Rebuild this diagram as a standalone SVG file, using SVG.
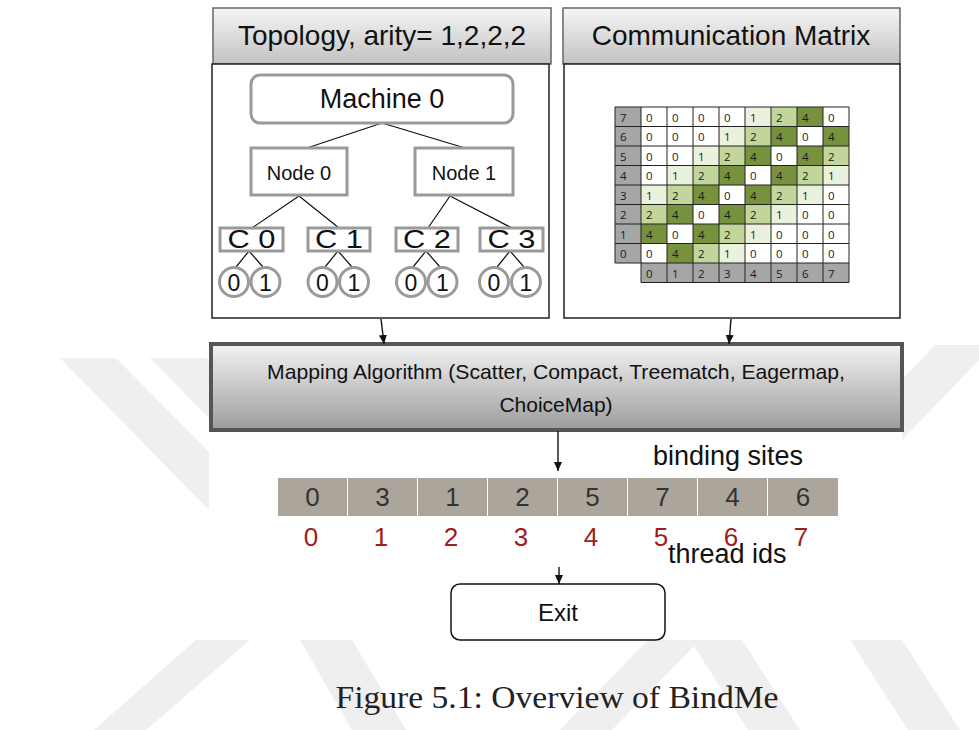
<svg xmlns="http://www.w3.org/2000/svg" width="979" height="730" viewBox="0 0 979 730">
<style>
.wm{fill:#efefef}
.hdr{fill:url(#gH);stroke:#666;stroke-width:1.5}
.panel{fill:#fff;stroke:#222;stroke-width:1.5}
.gbox{fill:#fff;stroke:#9a9a9a;stroke-width:3}
.t{font-family:"Liberation Sans",Arial,sans-serif;fill:#111;text-anchor:middle}
.ln{stroke:#111;stroke-width:1.2;fill:none}
.arr{stroke:#111;stroke-width:1.4;fill:none;marker-end:url(#ah)}
.m{font-family:"Open Sans","Liberation Sans",sans-serif;font-size:11.5px;fill:#1a1a1a}
.g4{fill:#76923c}.g2{fill:#c2d69b}.g1{fill:#eaf1dd}.gl{fill:#a6a6a6}
.ac{fill:#aba59c}
.an{font-family:"Liberation Sans",Arial,sans-serif;font-size:26px;fill:#333;text-anchor:middle}
.rn{font-family:"Liberation Sans",Arial,sans-serif;font-size:26px;fill:#a01c1c;text-anchor:middle}
</style>
<defs>
<linearGradient id="gH" x1="0" y1="0" x2="0" y2="1"><stop offset="0" stop-color="#f6f6f6"/><stop offset="1" stop-color="#c2c2c2"/></linearGradient>
<linearGradient id="gM" x1="0" y1="0" x2="0" y2="1"><stop offset="0" stop-color="#f3f3f3"/><stop offset="1" stop-color="#9c9c9c"/></linearGradient>
<marker id="ah" markerWidth="10" markerHeight="10" refX="9" refY="5" orient="auto" markerUnits="userSpaceOnUse"><path d="M0,1 L9,5 L0,9 z" fill="#111"/></marker>
</defs>
<rect width="979" height="730" fill="#fff"/>
<g id="watermark">
<polygon class="wm" points="60,358 116,358 209,452 209,510"/>
<polygon class="wm" points="150,358 206,358 209,361 209,418"/>
<polygon class="wm" points="94,730 146,730 250,640 196,640"/>
<polygon class="wm" points="300,640 352,640 406,730 352,730"/>
<polygon class="wm" points="560,730 612,730 700,640 648,640"/>
<polygon class="wm" points="690,640 742,640 800,730 748,730"/>
<polygon class="wm" points="850,640 902,640 960,730 908,730"/>
<polygon class="wm" points="902,380 935,345 979,345 979,360 902,440"/>
</g>
<rect x="209" y="0" width="693" height="640" fill="#fff"/>

<g id="topology-header"><rect class="hdr" x="213" y="8" width="338" height="56"/><text class="t" x="382" y="45" font-size="28">Topology, arity= 1,2,2,2</text></g>
<g id="matrix-header"><rect class="hdr" x="563" y="8" width="337" height="56"/><text class="t" x="731" y="45" font-size="28">Communication Matrix</text></g>
<g id="topology-panel"><rect class="panel" x="212" y="64" width="337" height="254"/></g>
<g id="matrix-panel"><rect class="panel" x="564" y="64" width="336" height="254"/></g>

<g id="tree-lines">
<path class="ln" d="M382,123 L307,148 M382,123 L465,148 M299,196 L252,228 M299,196 L339,228 M450,196 L428,228 M450,196 L512,228 M249,251 L236,267 M249,251 L263,267 M338,251 L325,267 M338,251 L352,267 M426,251 L413,267 M426,251 L440,267 M510,251 L497,267 M510,251 L524,267"/>
</g>
<g id="machine0"><rect class="gbox" x="251" y="75" width="262" height="48" rx="9"/><text class="t" x="382" y="108" font-size="27">Machine 0</text></g>
<g id="node0"><rect class="gbox" x="251" y="148" width="96" height="47"/><text class="t" x="299" y="180" font-size="20">Node 0</text></g>
<g id="node1"><rect class="gbox" x="415" y="148" width="98" height="47"/><text class="t" x="464" y="180" font-size="20">Node 1</text></g>
<g id="c0"><rect class="gbox" x="220" y="228" width="63" height="23"/><text class="t" x="251.5" y="247.5" font-size="25" textLength="48" lengthAdjust="spacingAndGlyphs">C 0</text></g>
<g id="c1"><rect class="gbox" x="308" y="228" width="62" height="23"/><text class="t" x="339" y="247.5" font-size="25" textLength="48" lengthAdjust="spacingAndGlyphs">C 1</text></g>
<g id="c2"><rect class="gbox" x="396" y="228" width="62" height="23"/><text class="t" x="427" y="247.5" font-size="25" textLength="48" lengthAdjust="spacingAndGlyphs">C 2</text></g>
<g id="c3"><rect class="gbox" x="480" y="228" width="63" height="23"/><text class="t" x="511.5" y="247.5" font-size="25" textLength="48" lengthAdjust="spacingAndGlyphs">C 3</text></g>
<g id="c0-t0"><circle class="gbox" cx="234" cy="282" r="14.5"/><text class="t" x="234" y="290.5" font-size="23">0</text></g>
<g id="c0-t1"><circle class="gbox" cx="265.5" cy="282" r="14.5"/><text class="t" x="265.5" y="290.5" font-size="23">1</text></g>
<g id="c1-t0"><circle class="gbox" cx="322.5" cy="282" r="14.5"/><text class="t" x="322.5" y="290.5" font-size="23">0</text></g>
<g id="c1-t1"><circle class="gbox" cx="354" cy="282" r="14.5"/><text class="t" x="354" y="290.5" font-size="23">1</text></g>
<g id="c2-t0"><circle class="gbox" cx="411" cy="282" r="14.5"/><text class="t" x="411" y="290.5" font-size="23">0</text></g>
<g id="c2-t1"><circle class="gbox" cx="442.5" cy="282" r="14.5"/><text class="t" x="442.5" y="290.5" font-size="23">1</text></g>
<g id="c3-t0"><circle class="gbox" cx="494" cy="282" r="14.5"/><text class="t" x="494" y="290.5" font-size="23">0</text></g>
<g id="c3-t1"><circle class="gbox" cx="526" cy="282" r="14.5"/><text class="t" x="526" y="290.5" font-size="23">1</text></g>

<g id="matrix">
<rect class="gl" x="615" y="107" width="26" height="156"/>
<rect class="gl" x="641" y="263" width="208" height="19.5"/>
<rect class="g1" x="745" y="107" width="26" height="19.5"/><rect class="g2" x="771" y="107" width="26" height="19.5"/><rect class="g4" x="797" y="107" width="26" height="19.5"/>
<rect class="g1" x="719" y="126.5" width="26" height="19.5"/><rect class="g2" x="745" y="126.5" width="26" height="19.5"/><rect class="g4" x="771" y="126.5" width="26" height="19.5"/><rect class="g4" x="823" y="126.5" width="26" height="19.5"/>
<rect class="g1" x="693" y="146" width="26" height="19.5"/><rect class="g2" x="719" y="146" width="26" height="19.5"/><rect class="g4" x="745" y="146" width="26" height="19.5"/><rect class="g4" x="797" y="146" width="26" height="19.5"/><rect class="g2" x="823" y="146" width="26" height="19.5"/>
<rect class="g1" x="667" y="165.5" width="26" height="19.5"/><rect class="g2" x="693" y="165.5" width="26" height="19.5"/><rect class="g4" x="719" y="165.5" width="26" height="19.5"/><rect class="g4" x="771" y="165.5" width="26" height="19.5"/><rect class="g2" x="797" y="165.5" width="26" height="19.5"/><rect class="g1" x="823" y="165.5" width="26" height="19.5"/>
<rect class="g1" x="641" y="185" width="26" height="19.5"/><rect class="g2" x="667" y="185" width="26" height="19.5"/><rect class="g4" x="693" y="185" width="26" height="19.5"/><rect class="g4" x="745" y="185" width="26" height="19.5"/><rect class="g2" x="771" y="185" width="26" height="19.5"/><rect class="g1" x="797" y="185" width="26" height="19.5"/>
<rect class="g2" x="641" y="204.5" width="26" height="19.5"/><rect class="g4" x="667" y="204.5" width="26" height="19.5"/><rect class="g4" x="719" y="204.5" width="26" height="19.5"/><rect class="g2" x="745" y="204.5" width="26" height="19.5"/><rect class="g1" x="771" y="204.5" width="26" height="19.5"/>
<rect class="g4" x="641" y="224" width="26" height="19.5"/><rect class="g4" x="693" y="224" width="26" height="19.5"/><rect class="g2" x="719" y="224" width="26" height="19.5"/><rect class="g1" x="745" y="224" width="26" height="19.5"/>
<rect class="g4" x="667" y="243.5" width="26" height="19.5"/><rect class="g2" x="693" y="243.5" width="26" height="19.5"/><rect class="g1" x="719" y="243.5" width="26" height="19.5"/>
<path stroke="#222" stroke-width="1" fill="none" d="M615,107H849M615,126.5H849M615,146H849M615,165.5H849M615,185H849M615,204.5H849M615,224H849M615,243.5H849M615,263H849M641,282.5H849M615,107V263M641,107V282.5M667,107V282.5M693,107V282.5M719,107V282.5M745,107V282.5M771,107V282.5M797,107V282.5M823,107V282.5M849,107V282.5"/>
<text class="m" x="620" y="121.5">7</text><text class="m" x="646" y="121.5">0</text><text class="m" x="672" y="121.5">0</text><text class="m" x="698" y="121.5">0</text><text class="m" x="724" y="121.5">0</text><text class="m" x="750" y="121.5">1</text><text class="m" x="776" y="121.5">2</text><text class="m" x="802" y="121.5">4</text><text class="m" x="828" y="121.5">0</text>
<text class="m" x="620" y="141">6</text><text class="m" x="646" y="141">0</text><text class="m" x="672" y="141">0</text><text class="m" x="698" y="141">0</text><text class="m" x="724" y="141">1</text><text class="m" x="750" y="141">2</text><text class="m" x="776" y="141">4</text><text class="m" x="802" y="141">0</text><text class="m" x="828" y="141">4</text>
<text class="m" x="620" y="160.5">5</text><text class="m" x="646" y="160.5">0</text><text class="m" x="672" y="160.5">0</text><text class="m" x="698" y="160.5">1</text><text class="m" x="724" y="160.5">2</text><text class="m" x="750" y="160.5">4</text><text class="m" x="776" y="160.5">0</text><text class="m" x="802" y="160.5">4</text><text class="m" x="828" y="160.5">2</text>
<text class="m" x="620" y="180">4</text><text class="m" x="646" y="180">0</text><text class="m" x="672" y="180">1</text><text class="m" x="698" y="180">2</text><text class="m" x="724" y="180">4</text><text class="m" x="750" y="180">0</text><text class="m" x="776" y="180">4</text><text class="m" x="802" y="180">2</text><text class="m" x="828" y="180">1</text>
<text class="m" x="620" y="199.5">3</text><text class="m" x="646" y="199.5">1</text><text class="m" x="672" y="199.5">2</text><text class="m" x="698" y="199.5">4</text><text class="m" x="724" y="199.5">0</text><text class="m" x="750" y="199.5">4</text><text class="m" x="776" y="199.5">2</text><text class="m" x="802" y="199.5">1</text><text class="m" x="828" y="199.5">0</text>
<text class="m" x="620" y="219">2</text><text class="m" x="646" y="219">2</text><text class="m" x="672" y="219">4</text><text class="m" x="698" y="219">0</text><text class="m" x="724" y="219">4</text><text class="m" x="750" y="219">2</text><text class="m" x="776" y="219">1</text><text class="m" x="802" y="219">0</text><text class="m" x="828" y="219">0</text>
<text class="m" x="620" y="238.5">1</text><text class="m" x="646" y="238.5">4</text><text class="m" x="672" y="238.5">0</text><text class="m" x="698" y="238.5">4</text><text class="m" x="724" y="238.5">2</text><text class="m" x="750" y="238.5">1</text><text class="m" x="776" y="238.5">0</text><text class="m" x="802" y="238.5">0</text><text class="m" x="828" y="238.5">0</text>
<text class="m" x="620" y="258">0</text><text class="m" x="646" y="258">0</text><text class="m" x="672" y="258">4</text><text class="m" x="698" y="258">2</text><text class="m" x="724" y="258">1</text><text class="m" x="750" y="258">0</text><text class="m" x="776" y="258">0</text><text class="m" x="802" y="258">0</text><text class="m" x="828" y="258">0</text>
<text class="m" x="646" y="277.5">0</text><text class="m" x="672" y="277.5">1</text><text class="m" x="698" y="277.5">2</text><text class="m" x="724" y="277.5">3</text><text class="m" x="750" y="277.5">4</text><text class="m" x="776" y="277.5">5</text><text class="m" x="802" y="277.5">6</text><text class="m" x="828" y="277.5">7</text>
</g>

<g id="mapping"><rect x="211" y="344" width="691" height="86" fill="url(#gM)" stroke="#555" stroke-width="4"/>
<text class="t" x="556" y="379" font-size="21" textLength="578" lengthAdjust="spacingAndGlyphs">Mapping Algorithm (Scatter, Compact, Treematch, Eagermap,</text>
<text class="t" x="556" y="412" font-size="21">ChoiceMap)</text></g>

<g id="binding-sites">
<rect class="ac" x="278" y="478" width="69" height="38"/><rect class="ac" x="348" y="478" width="69" height="38"/><rect class="ac" x="418" y="478" width="69" height="38"/><rect class="ac" x="488" y="478" width="69" height="38"/><rect class="ac" x="558" y="478" width="69" height="38"/><rect class="ac" x="628" y="478" width="69" height="38"/><rect class="ac" x="698" y="478" width="69" height="38"/><rect class="ac" x="768" y="478" width="70" height="38"/>
<text class="an" x="312.5" y="506">0</text><text class="an" x="382.5" y="506">3</text><text class="an" x="452.5" y="506">1</text><text class="an" x="522.5" y="506">2</text><text class="an" x="592.5" y="506">5</text><text class="an" x="662.5" y="506">7</text><text class="an" x="732.5" y="506">4</text><text class="an" x="803" y="506">6</text>
<text class="t" x="653" y="465" font-size="27" text-anchor="start" style="text-anchor:start">binding sites</text>
</g>
<g id="thread-ids">
<text class="rn" x="311" y="546">0</text><text class="rn" x="381" y="546">1</text><text class="rn" x="451" y="546">2</text><text class="rn" x="521" y="546">3</text><text class="rn" x="591" y="546">4</text><text class="rn" x="661" y="546">5</text><text class="rn" x="731" y="546">6</text><text class="rn" x="801" y="546">7</text>
<text class="t" x="668" y="563" font-size="27" style="text-anchor:start">thread ids</text>
</g>
<g id="exit"><rect x="451" y="584" width="214" height="56" rx="9" fill="#fff" stroke="#111" stroke-width="1.5"/><text class="t" x="558" y="621" font-size="24">Exit</text></g>

<g id="connectors">
<path class="arr" d="M381,319 L384,344"/>
<path class="arr" d="M731,319 L729,344"/>
<path class="arr" d="M558,431 L558,471"/>
<path class="arr" d="M559,567 L559,584"/>
</g>

<text x="557" y="708" font-family="Liberation Serif,'Times New Roman',serif" font-size="32" fill="#222" text-anchor="middle" textLength="443" lengthAdjust="spacingAndGlyphs">Figure 5.1: Overview of BindMe</text>
</svg>
